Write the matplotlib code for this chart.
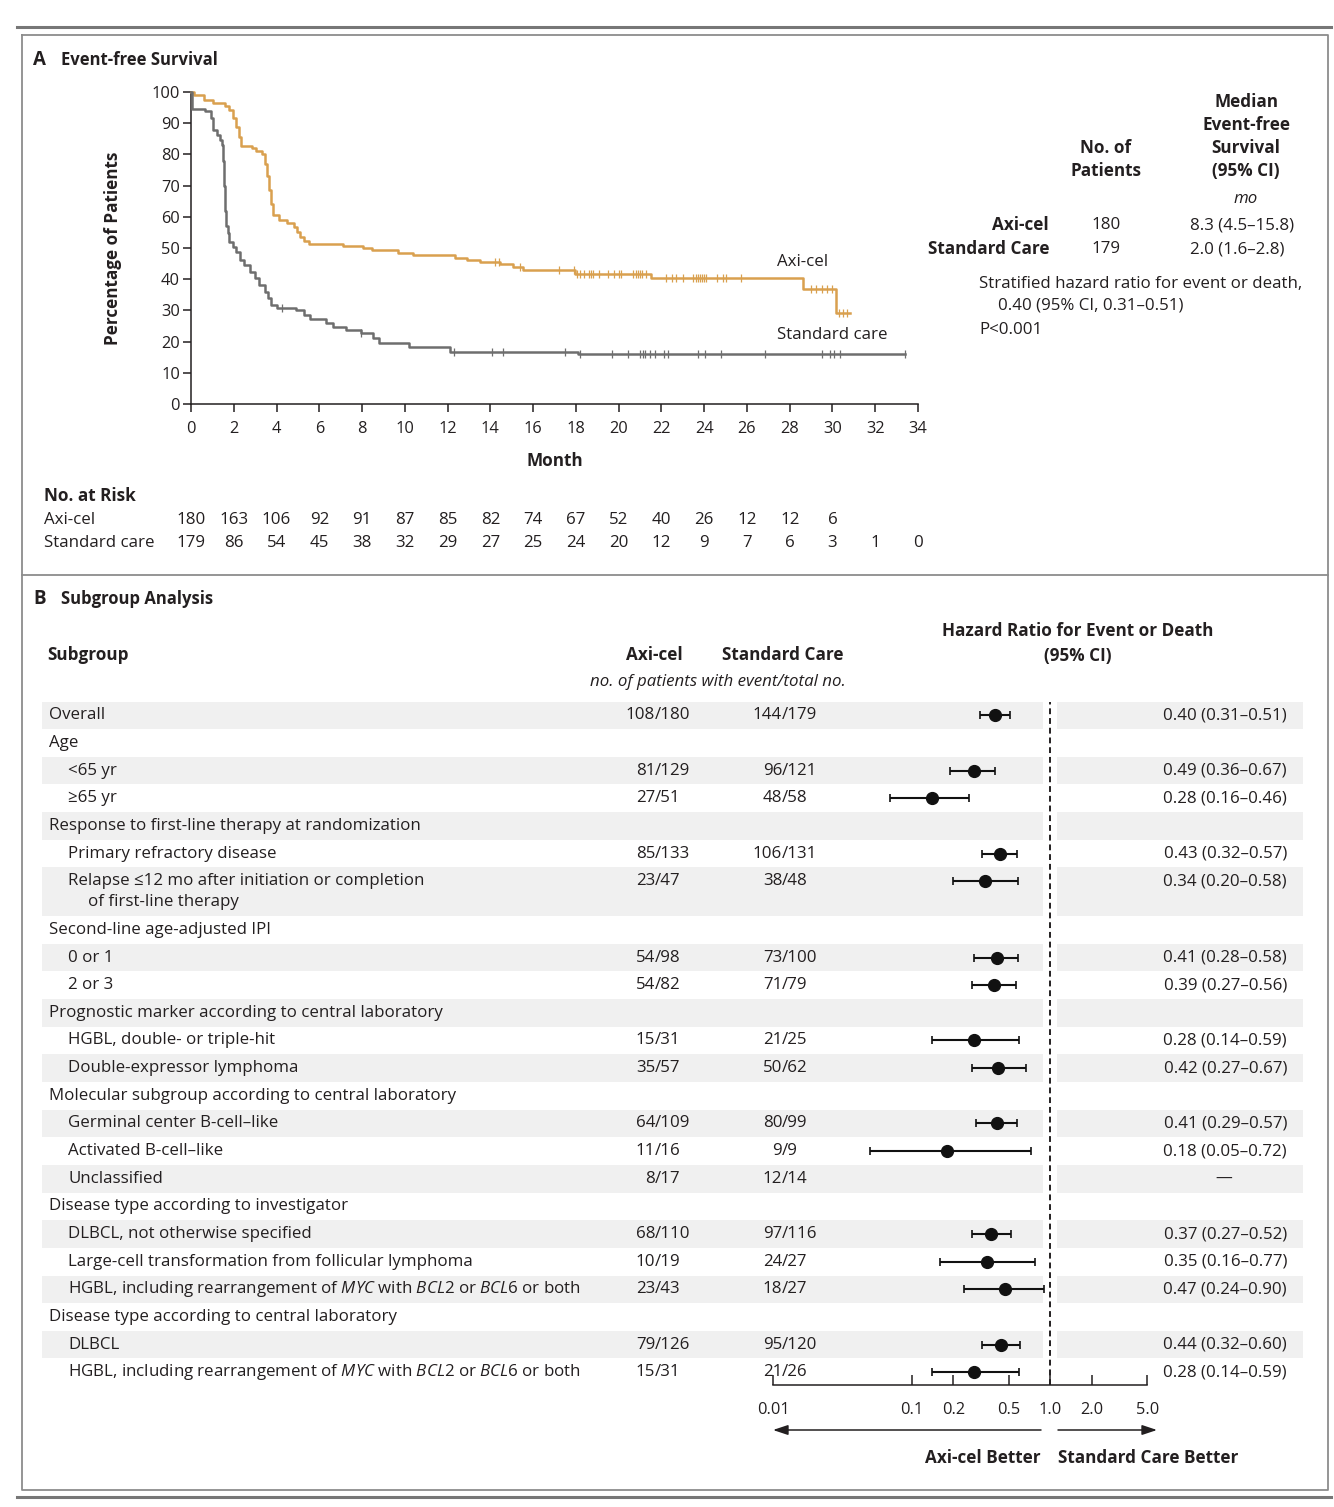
import numpy as np
import matplotlib
matplotlib.use("Agg")
import matplotlib.pyplot as plt
from matplotlib.transforms import blended_transform_factory
from matplotlib.ticker import NullLocator, FixedLocator, FixedFormatter

plt.rcParams['font.family'] = ['Open Sans', 'DejaVu Sans']
plt.rcParams['mathtext.fontset'] = 'custom'
plt.rcParams['mathtext.rm'] = 'Open Sans'
plt.rcParams['mathtext.it'] = 'Open Sans:italic'
plt.rcParams['mathtext.bf'] = 'Open Sans:bold'

TXT = '#231F20'
ORANGE = '#D9A04F'
GREY = '#6E6E6E'
BAND = '#F0F0F0'
FS = 12.2
FB = 12.3

# ---------------- panel A data ----------------
axi_t = [0, 0.15, 0.6, 1.05, 1.6, 1.8, 1.95, 2.1, 2.25, 2.35, 2.85, 3.05, 3.3, 3.45, 3.55,
         3.65, 3.75, 3.85, 4.1, 4.5, 4.8, 4.95, 5.1, 5.3, 5.5, 7.1, 8.05, 8.45, 9.7, 10.4,
         12.35, 12.9, 13.5, 14.45, 15.05, 15.55, 17.95, 21.5, 28.6, 30.15]
axi_s = [100, 98.9, 97.4, 96.4, 95.6, 94.2, 91.7, 88.9, 85.7, 82.7, 81.9, 81.0, 80.1, 77.0, 73.0,
         68.5, 64.0, 60.6, 59.0, 58.0, 56.8, 55.2, 53.6, 52.2, 51.3, 50.6, 49.9, 49.4, 48.5, 47.8,
         46.7, 46.2, 45.6, 44.9, 44.0, 43.0, 41.7, 40.5, 36.9, 29.3]
axi_end = 30.8
axi_cens = [14.2, 14.4, 15.4, 17.2, 17.9, 18.05, 18.2, 18.4, 18.6, 18.7, 18.8, 19.1, 19.5, 19.8,
            20.0, 20.1, 20.65, 20.8, 20.9, 21.0, 21.1, 21.3, 22.2, 22.5, 22.7, 23.0, 23.5, 23.6,
            23.7, 23.8, 23.9, 24.0, 24.1, 24.6, 24.9, 25.0, 25.7, 29.0, 29.25, 29.5, 29.75, 30.0,
            30.3, 30.5, 30.7]

sc_t = [0, 0.05, 0.65, 0.95, 1.05, 1.2, 1.35, 1.45, 1.5, 1.55, 1.6, 1.65, 1.72, 1.8, 1.95,
        2.1, 2.3, 2.5, 2.75, 3.0, 3.2, 3.45, 3.6, 3.75, 4.0, 4.9, 5.3, 5.55, 6.3, 6.65, 7.25,
        7.95, 8.5, 8.8, 10.2, 12.1, 18.1]
sc_s = [100, 94.6, 94.0, 91.6, 87.8, 86.2, 84.6, 83.0, 78.0, 70.0, 62.0, 57.0, 54.7, 52.0, 50.4,
        48.8, 46.2, 44.6, 42.4, 40.3, 38.1, 36.0, 33.9, 31.7, 30.9, 30.1, 28.5, 27.1, 25.9, 24.8, 23.7,
        22.6, 21.0, 19.4, 18.4, 16.8, 16.0]
sc_end = 33.4
sc_cens = [4.25, 7.95, 12.3, 14.1, 14.6, 17.5, 18.2, 19.7, 20.45, 21.0, 21.13, 21.25, 21.45,
           21.7, 22.1, 22.3, 23.7, 24.05, 24.8, 26.85, 29.5, 29.9, 30.05, 30.35, 33.4]

risk_axi = [180, 163, 106, 92, 91, 87, 85, 82, 74, 67, 52, 40, 26, 12, 12, 6]
risk_sc = [179, 86, 54, 45, 38, 32, 29, 27, 25, 24, 20, 12, 9, 7, 6, 3, 1, 0]

# ---------------- panel B data ----------------
subgroups = ["Overall", "Age", "<65 yr", "\u226565 yr",
             "Response to first-line therapy at randomization",
             "Primary refractory disease",
             "Relapse \u226412 mo after initiation or completion|of first-line therapy",
             "Second-line age-adjusted IPI", "0 or 1", "2 or 3",
             "Prognostic marker according to central laboratory",
             "HGBL, double- or triple-hit", "Double-expressor lymphoma",
             "Molecular subgroup according to central laboratory",
             "Germinal center B-cell\u2013like", "Activated B-cell\u2013like", "Unclassified",
             "Disease type according to investigator",
             "DLBCL, not otherwise specified",
             "Large-cell transformation from follicular lymphoma",
             r"HGBL, including rearrangement of $\mathit{MYC}$ with $\mathit{BCL2}$ or $\mathit{BCL6}$ or both",
             "Disease type according to central laboratory",
             "DLBCL",
             r"HGBL, including rearrangement of $\mathit{MYC}$ with $\mathit{BCL2}$ or $\mathit{BCL6}$ or both"]
indent = [0, 0, 1, 1, 0, 1, 1, 0, 1, 1, 0, 1, 1, 0, 1, 1, 1, 0, 1, 1, 1, 0, 1, 1]
axi_ev = ["108/180", "", "81/129", "27/51", "", "85/133", "23/47", "", "54/98", "54/82", "",
          "15/31", "35/57", "", "64/109", "11/16", "8/17", "", "68/110", "10/19", "23/43", "",
          "79/126", "15/31"]
sc_ev = ["144/179", "", "96/121", "48/58", "", "106/131", "38/48", "", "73/100", "71/79", "",
         "21/25", "50/62", "", "80/99", "9/9", "12/14", "", "97/116", "24/27", "18/27", "",
         "95/120", "21/26"]
hr_txt = ["0.40 (0.31\u20130.51)", "", "0.49 (0.36\u20130.67)", "0.28 (0.16\u20130.46)", "",
          "0.43 (0.32\u20130.57)", "0.34 (0.20\u20130.58)", "", "0.41 (0.28\u20130.58)",
          "0.39 (0.27\u20130.56)", "", "0.28 (0.14\u20130.59)", "0.42 (0.27\u20130.67)", "",
          "0.41 (0.29\u20130.57)", "0.18 (0.05\u20130.72)", "\u2014", "",
          "0.37 (0.27\u20130.52)", "0.35 (0.16\u20130.77)", "0.47 (0.24\u20130.90)", "",
          "0.44 (0.32\u20130.60)", "0.28 (0.14\u20130.59)"]
nan = np.nan
# plotted positions (age rows are drawn where the picture shows them)
hr_pt = [0.40, nan, 0.28, 0.14, nan, 0.43, 0.34, nan, 0.41, 0.39, nan, 0.28, 0.42, nan,
         0.41, 0.18, nan, nan, 0.37, 0.35, 0.47, nan, 0.44, 0.28]
hr_lo = [0.31, nan, 0.19, 0.07, nan, 0.32, 0.20, nan, 0.28, 0.27, nan, 0.14, 0.27, nan,
         0.29, 0.05, nan, nan, 0.27, 0.16, 0.24, nan, 0.32, 0.14]
hr_hi = [0.51, nan, 0.40, 0.26, nan, 0.57, 0.58, nan, 0.58, 0.56, nan, 0.59, 0.67, nan,
         0.57, 0.72, nan, nan, 0.52, 0.77, 0.90, nan, 0.60, 0.59]
fp_ticks = [0.01, 0.1, 0.2, 0.5, 1.0, 2.0, 5.0]
fp_labels = ["0.01", "0.1", "0.2", "0.5", "1.0", "2.0", "5.0"]

# ---------------- figure, pixel helpers ----------------
W, H = 1334, 1507
fig = plt.figure(figsize=(W / 100, H / 100), dpi=100)


def rect(x0, y0, x1, y1):
    return [x0 / W, 1 - y1 / H, (x1 - x0) / W, (y1 - y0) / H]


bg = fig.add_axes([0, 0, 1, 1])
bg.set_xlim(0, W)
bg.set_ylim(H, 0)
bg.axis('off')

# frame
bg.plot([17, 1331], [27, 27], color='#777777', lw=2.2)
bg.plot([17, 1331], [1497, 1497], color='#777777', lw=2.2)
bg.plot([22, 1328, 1328, 22, 22], [35, 35, 1490, 1490, 35], color='#8C8C8C', lw=1.3)
bg.plot([22, 1328], [575, 575], color='#8C8C8C', lw=1.3)

# ---------------- panel A ----------------
bg.text(33, 60, 'A', fontsize=13.5, fontweight='bold', va='center', color=TXT)
bg.text(61, 60, 'Event-free Survival', fontsize=12, fontweight='bold', va='center', color=TXT)

ax = fig.add_axes(rect(191, 92, 918, 404))
ax.patch.set_alpha(0)
ax.set_xlim(0, 34)
ax.set_ylim(0, 100)
for sp in ['top', 'right']:
    ax.spines[sp].set_visible(False)
for sp in ['left', 'bottom']:
    ax.spines[sp].set_linewidth(1.1)
    ax.spines[sp].set_color(TXT)
ax.set_xticks(np.arange(0, 35, 2))
ax.set_yticks(np.arange(0, 101, 10))
ax.tick_params(length=6, width=1.1, color=TXT, labelsize=11.8, labelcolor=TXT, pad=2)
ax.tick_params(axis='x', pad=6)

ax.step(np.append(axi_t, axi_end), np.append(axi_s, axi_s[-1]), where='post',
        color=ORANGE, lw=1.8, clip_on=False, zorder=3)
ax.step(np.append(sc_t, sc_end), np.append(sc_s, sc_s[-1]), where='post',
        color=GREY, lw=1.8, clip_on=False, zorder=3)


def surv_at(t, s, times):
    idx = np.searchsorted(t, times, side='right') - 1
    return np.asarray(s)[idx]


ax.plot(axi_cens, surv_at(axi_t, axi_s, axi_cens), ls='none', marker='|', ms=6,
        mew=0.9, color=ORANGE, zorder=3)
ax.plot(sc_cens, surv_at(sc_t, sc_s, sc_cens), ls='none', marker='|', ms=6,
        mew=0.9, color=GREY, zorder=3)

ax.text(28.62, 45.5, 'Axi-cel', fontsize=FS, ha='center', va='center', color=TXT)
ax.text(30.0, 22.1, 'Standard care', fontsize=FS, ha='center', va='center', color=TXT)

ax.set_ylabel('Percentage of Patients', fontsize=FB, fontweight='bold', color=TXT)
ax.yaxis.set_label_coords(-0.095, 0.5)
ax.set_xlabel('Month', fontsize=FB, fontweight='bold', color=TXT)
ax.xaxis.set_label_coords(0.5, -0.155)

# summary table on the right
for txt, yy in zip(['Median', 'Event-free', 'Survival', '(95% CI)'], [102, 125, 148, 171]):
    bg.text(1246, yy, txt, fontsize=FB, fontweight='bold', ha='center', va='center', color=TXT)
for txt, yy in zip(['No. of', 'Patients'], [148, 171]):
    bg.text(1106, yy, txt, fontsize=FB, fontweight='bold', ha='center', va='center', color=TXT)
bg.text(1246, 199, 'mo', fontsize=FS, style='italic', ha='center', va='center', color=TXT)
bg.text(1049, 225, 'Axi-cel', fontsize=FB, fontweight='bold', ha='right', va='center', color=TXT)
bg.text(1049, 249, 'Standard Care', fontsize=FB, fontweight='bold', ha='right', va='center', color=TXT)
bg.text(1106, 225, '180', fontsize=FS, ha='center', va='center', color=TXT)
bg.text(1106, 249, '179', fontsize=FS, ha='center', va='center', color=TXT)
bg.text(1190, 225, '8.3 (4.5\u201315.8)', fontsize=FS, ha='left', va='center', color=TXT)
bg.text(1190, 249, '2.0 (1.6\u20132.8)', fontsize=FS, ha='left', va='center', color=TXT)
bg.text(979, 284, 'Stratified hazard ratio for event or death,', fontsize=FS, va='center', color=TXT)
bg.text(998, 306, '0.40 (95% CI, 0.31\u20130.51)', fontsize=FS, va='center', color=TXT)
bg.text(979, 330, 'P<0.001', fontsize=FS, va='center', color=TXT)

# numbers at risk
bg.text(44, 496, 'No. at Risk', fontsize=FB, fontweight='bold', va='center', color=TXT)
bg.text(44, 520, 'Axi-cel', fontsize=FS, va='center', color=TXT)
bg.text(44, 543, 'Standard care', fontsize=FS, va='center', color=TXT)
rt = blended_transform_factory(ax.transData, bg.transData)
for i, n in enumerate(risk_axi):
    bg.text(2 * i, 520, str(n), fontsize=FS, ha='center', va='center', color=TXT, transform=rt)
for i, n in enumerate(risk_sc):
    bg.text(2 * i, 543, str(n), fontsize=FS, ha='center', va='center', color=TXT, transform=rt)

# ---------------- panel B ----------------
bg.text(33, 599, 'B', fontsize=13.5, fontweight='bold', va='center', color=TXT)
bg.text(61, 599, 'Subgroup Analysis', fontsize=12, fontweight='bold', va='center', color=TXT)
bg.text(47, 655, 'Subgroup', fontsize=FB, fontweight='bold', va='center', color=TXT)
bg.text(654, 655, 'Axi-cel', fontsize=FB, fontweight='bold', ha='center', va='center', color=TXT)
bg.text(783, 655, 'Standard Care', fontsize=FB, fontweight='bold', ha='center', va='center', color=TXT)
bg.text(718, 682, 'no. of patients with event/total no.', fontsize=FS, style='italic',
        ha='center', va='center', color=TXT)
bg.text(1078, 631, 'Hazard Ratio for Event or Death', fontsize=FB, fontweight='bold',
        ha='center', va='center', color=TXT)
bg.text(1078, 656, '(95% CI)', fontsize=FB, fontweight='bold', ha='center', va='center', color=TXT)

row_h = 27.65
extra = 21.0
top = 701.5
centers = []
for i, name in enumerate(subgroups):
    two = '|' in name
    h = row_h + (extra if two else 0)
    yc = top + row_h / 2
    centers.append(yc)
    if i % 2 == 0:
        bg.fill_between([42, 1043], top, top + h, color=BAND, lw=0, zorder=0)
        bg.fill_between([1057, 1303], top, top + h, color=BAND, lw=0, zorder=0)
    x0 = 49 if indent[i] == 0 else 68
    if two:
        l1, l2 = name.split('|')
        bg.text(x0, yc, l1, fontsize=FS, va='center', color=TXT)
        bg.text(x0 + 20, yc + extra, l2, fontsize=FS, va='center', color=TXT)
    else:
        bg.text(x0, yc, name, fontsize=FS, va='center', color=TXT)
    for ev, xs in ((axi_ev[i], 655), (sc_ev[i], 782)):
        if ev:
            a, b = ev.split('/')
            bg.text(xs + 0.2, yc, a, fontsize=FS, ha='right', va='center', color=TXT)
            bg.text(xs - 0.2, yc, '/' + b, fontsize=FS, ha='left', va='center', color=TXT)
    if hr_txt[i] == '\u2014':
        bg.text(1224, yc, hr_txt[i], fontsize=FS, ha='center', va='center', color=TXT)
    elif hr_txt[i]:
        bg.text(1287, yc, hr_txt[i], fontsize=FS, ha='right', va='center', color=TXT)
    top += h
centers = np.array(centers)

axf = fig.add_axes(rect(773, 702, 1147.4, 1385))
axf.patch.set_alpha(0)
axf.set_xscale('log')
axf.set_xlim(0.01, 5)
axf.set_ylim(1385, 702)
for sp in ['top', 'right', 'left']:
    axf.spines[sp].set_visible(False)
axf.spines['bottom'].set_linewidth(1.1)
axf.spines['bottom'].set_color(TXT)
axf.xaxis.set_major_locator(FixedLocator(fp_ticks))
axf.xaxis.set_major_formatter(FixedFormatter(fp_labels))
axf.xaxis.set_minor_locator(NullLocator())
axf.set_yticks([])
axf.tick_params(axis='x', direction='in', length=7, width=1.1, color=TXT,
                labelsize=11.8, labelcolor=TXT, pad=12)
axf.axvline(1.0, color=TXT, lw=1.4, ls=(0, (3, 2)))

pt = np.array(hr_pt)
lo = np.array(hr_lo)
hi = np.array(hr_hi)
ok = ~np.isnan(pt)
axf.errorbar(pt[ok], centers[ok], xerr=[pt[ok] - lo[ok], hi[ok] - pt[ok]], fmt='o',
             ms=8.5, color='#111111', ecolor='#111111', elinewidth=1.5, capsize=3.2,
             capthick=1.2, zorder=4)

# direction arrows
bg.annotate('', xy=(773, 1430), xytext=(1041, 1430),
            arrowprops=dict(arrowstyle='-|>,head_length=0.9,head_width=0.3', lw=1.1, color=TXT,
                            shrinkA=0, shrinkB=0))
bg.annotate('', xy=(1157, 1430), xytext=(1058, 1430),
            arrowprops=dict(arrowstyle='-|>,head_length=0.9,head_width=0.3', lw=1.1, color=TXT,
                            shrinkA=0, shrinkB=0))
bg.text(1041, 1458, 'Axi-cel Better', fontsize=FB, fontweight='bold', ha='right', va='center', color=TXT)
bg.text(1058, 1458, 'Standard Care Better', fontsize=FB, fontweight='bold', ha='left', va='center', color=TXT)

fig.savefig('out.png', dpi=100, facecolor='white')
